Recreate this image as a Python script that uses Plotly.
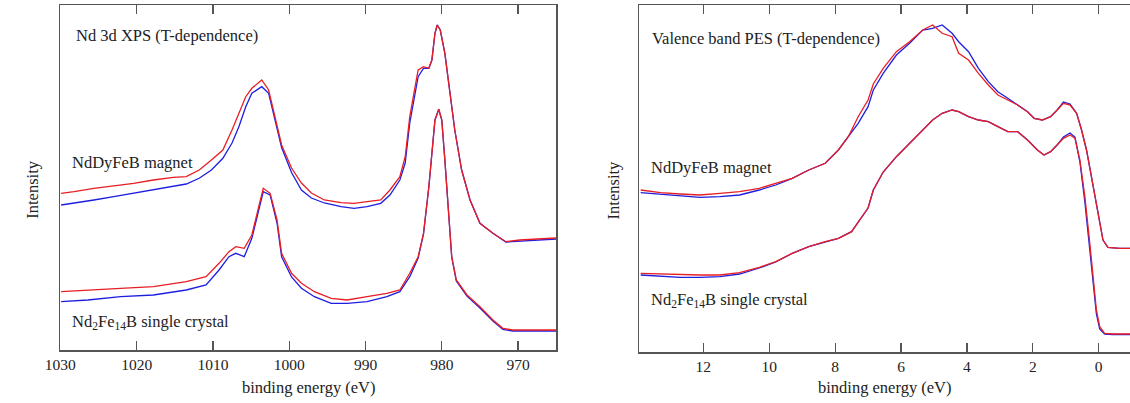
import plotly.graph_objects as go

# ---------------- Nd 3d XPS (left panel) ----------------
E_3d_mag = [1029.9, 1028.2, 1025.6, 1023.0, 1020.4, 1017.8, 1015.2, 1013.5, 1011.8, 1010.2,
            1008.7, 1007.5, 1006.6, 1005.7, 1004.9, 1003.6, 1002.7, 1001.8, 1001.0, 999.7,
            998.4, 997.1, 995.4, 993.2, 991.5, 989.8, 988.0, 986.8, 985.5, 984.8,
            984.2, 983.5, 983.1, 982.4, 981.7, 981.3, 980.9, 980.6, 980.2, 979.6,
            978.9, 978.3, 977.4, 976.3, 975.0, 973.3, 971.6, 969.8, 967.5, 965.0]
I_3d_mag_red = [156.7, 158.3, 161.7, 164, 166.7, 170, 172.7, 173.3, 180, 190,
                200, 220, 237, 253.3, 261.7, 270, 260, 230, 205, 182,
                167, 157, 150, 147.3, 146.7, 148.3, 150, 160, 173.3, 193.3,
                233.3, 263.3, 280, 283.3, 281.7, 290, 316.7, 325, 320, 296.7,
                256.7, 220, 180, 150, 126.7, 116.7, 108.3, 110, 111, 112]
I_3d_mag_blue = [145, 146.7, 150, 153.3, 156.7, 160, 163.3, 166, 171.7, 180,
                 191.7, 207, 223.3, 243.3, 256.7, 263.3, 256.7, 228.3, 202.5, 177.5,
                 160, 152, 147, 143.3, 141.7, 143.3, 146.7, 155, 170, 187,
                 227, 256.7, 273.3, 281.7, 281.7, 290, 316.7, 325, 320, 296.7,
                 256.7, 220, 180, 150, 126.7, 116.7, 108, 109, 110, 111]

E_3d_cry = [1029.9, 1026.4, 1022.1, 1017.8, 1013.5, 1010.9, 1009.2, 1007.9, 1007.0, 1005.9,
            1004.9, 1004.0, 1003.4, 1002.5, 1001.6, 1001.0, 999.7, 998.4, 996.7, 994.5,
            992.4, 989.8, 987.2, 985.5, 984.2, 983.1, 982.4, 981.7, 981.3, 980.9,
            980.4, 980.0, 979.6, 979.1, 978.7, 978.1, 976.7, 975.0, 973.3, 972.0,
            970.7, 969.2, 965.0]
I_3d_cry_red = [58.3, 60, 61.7, 63.3, 68.3, 73.3, 86.7, 98.3, 103.3, 101.7,
                115, 143.3, 161.7, 156.7, 130, 96.7, 76.7, 66.7, 58.3, 51.7,
                50, 53.3, 56.7, 60, 76.7, 93.3, 116.7, 163.3, 200, 230,
                240.7, 230, 190, 133.3, 93.3, 70, 55, 43.3, 30, 21.7,
                20, 20, 20]
I_3d_cry_blue = [48.3, 50, 53.3, 55, 60, 65, 80, 93.3, 96.7, 93.3,
                 111.7, 140, 158.3, 155, 127, 93.3, 73, 61.7, 53.3, 46.7,
                 46.7, 48.3, 53.3, 58.3, 73.3, 92, 116, 163, 200, 230,
                 240.7, 230, 190, 133.3, 93, 69, 54, 42, 29, 20.5,
                 19, 19, 19]

# ---------------- Valence band PES (right panel) ----------------
E_vb_mag = [13.9, 13.3, 12.7, 12.1, 11.5, 10.9, 10.3, 9.8, 9.3, 8.8,
            8.3, 7.9, 7.6, 7.3, 7.0, 6.84, 6.54, 6.14, 5.74, 5.34,
            5.04, 4.75, 4.45, 4.25, 3.95, 3.65, 3.35, 3.06, 2.76, 2.46,
            2.16, 1.96, 1.71, 1.46, 1.26, 1.07, 0.87, 0.67, 0.52, 0.37,
            0.22, 0.07, -0.03, -0.13, -0.28, -0.63, -0.95]
I_vb_mag_red = [160, 157.3, 156, 155, 156.7, 158.3, 161.7, 166.7, 171.7, 180,
                186.7, 200, 213.3, 233.3, 250, 266, 281.7, 298.3, 308.3, 320,
                325, 316.7, 313.3, 296.7, 290, 276.7, 265, 255, 250, 245,
                238.3, 231.7, 230, 233.3, 240, 246.7, 245, 236.7, 220, 200,
                173.3, 146.7, 126.7, 110, 102.7, 101.7, 101.7]
I_vb_mag_blue = [157.3, 155.7, 154, 152.7, 153.3, 155, 160, 165, 171.7, 180,
                 186.7, 200, 213.3, 226.7, 243.3, 260, 276.7, 295, 306.7, 320,
                 321.7, 325, 316.7, 308.3, 298.3, 281.7, 268.3, 258.3, 251.7, 245,
                 238.3, 231.7, 230, 233.3, 240, 248, 246, 236.7, 220, 200,
                 173.3, 146.7, 126.7, 110, 102.7, 101.7, 101.7]

E_vb_cry = [13.9, 13.3, 12.7, 12.1, 11.5, 10.9, 10.3, 9.8, 9.3, 8.8,
            8.3, 7.9, 7.5, 7.2, 7.0, 6.84, 6.54, 6.14, 5.74, 5.34,
            5.04, 4.75, 4.45, 4.25, 3.95, 3.65, 3.35, 3.06, 2.76, 2.46,
            2.16, 1.86, 1.66, 1.46, 1.26, 1.07, 0.87, 0.72, 0.57, 0.42,
            0.27, 0.17, 0.07, -0.03, -0.18, -0.43, -0.95]
I_vb_cry_red = [76.7, 76, 75, 75, 75, 77.3, 82.7, 88.3, 96.7, 103.3,
                108.3, 111.7, 118.3, 132, 142, 160, 178, 193.3, 206.7, 220,
                230, 236.7, 240, 238.3, 233.3, 230, 228.3, 223.3, 218.3, 218.3,
                210, 200, 195, 198.3, 205, 211.7, 215, 211.7, 190, 153.3,
                106.7, 73.3, 40, 23.3, 16.7, 16, 16]
I_vb_cry_blue = [75, 74, 72.7, 72.7, 73.3, 76, 82, 88, 96.7, 103.3,
                 108.3, 111.7, 118.3, 132, 142, 160, 178, 193.3, 206.7, 220,
                 230, 236.7, 240, 238.3, 233.3, 230, 228.3, 223.3, 218.3, 218.3,
                 210, 200, 195, 198.3, 205, 213, 217, 213, 188, 148,
                 100, 68, 36, 21, 16, 15.5, 15.5]

x_ticks_3d = [1030, 1020, 1010, 1000, 990, 980, 970]
x_ticks_vb = [12, 10, 8, 6, 4, 2, 0]

RED = "rgb(232,30,36)"
BLUE = "rgb(30,30,225)"
FONT = "Liberation Serif"
TXT = 16.5
W, H = 1130, 403


def px(x):
    return x / W


def py(y):
    return 1 - y / H


fig = go.Figure()


def add(x, y, color, xa, ya):
    fig.add_trace(go.Scatter(x=x, y=y, mode="lines", xaxis=xa, yaxis=ya,
                             line=dict(color=color, width=1.3), showlegend=False,
                             hoverinfo="skip"))


add(E_3d_mag, I_3d_mag_blue, BLUE, "x", "y")
add(E_3d_mag, I_3d_mag_red, RED, "x", "y")
add(E_3d_cry, I_3d_cry_blue, BLUE, "x", "y")
add(E_3d_cry, I_3d_cry_red, RED, "x", "y")
add(E_vb_mag, I_vb_mag_blue, BLUE, "x2", "y2")
add(E_vb_mag, I_vb_mag_red, RED, "x2", "y2")
add(E_vb_cry, I_vb_cry_blue, BLUE, "x2", "y2")
add(E_vb_cry, I_vb_cry_red, RED, "x2", "y2")

axis_common = dict(showgrid=False, zeroline=False, showline=True, linecolor="#555",
                   linewidth=1.5, ticks="inside", ticklen=9, tickcolor="#555",
                   tickwidth=1.2, tickfont=dict(family=FONT, size=15.5, color="#222"))

fig.update_layout(
    width=W, height=H, margin=dict(l=0, r=0, t=0, b=0),
    paper_bgcolor="white", plot_bgcolor="white",
    xaxis=dict(domain=[px(45), px(548)], range=[1030, 965], tickvals=x_ticks_3d,
               anchor="y", mirror="ticks", **axis_common),
    yaxis=dict(domain=[py(350), py(5)], range=[0, 345], showgrid=False, zeroline=False,
               showline=True, linecolor="#555", linewidth=1.5, mirror=True,
               showticklabels=False, ticks="", anchor="x"),
    xaxis2=dict(domain=[px(632), 1.0], range=[13.95, -0.95], tickvals=x_ticks_vb,
                anchor="y2", mirror="ticks", **axis_common),
    yaxis2=dict(domain=[py(352), py(5)], range=[-2, 345], showgrid=False, zeroline=False,
                showline=True, linecolor="#555", linewidth=1.5, mirror=False,
                showticklabels=False, ticks="", anchor="x2"),
)


def note(text, x, y, size=TXT, xanchor="left", angle=0):
    fig.add_annotation(text=text, x=px(x), y=py(y), xref="paper", yref="paper",
                       showarrow=False, xanchor=xanchor, yanchor="middle", textangle=angle,
                       font=dict(family=FONT, size=size, color="#222"))


note("Nd 3d XPS (T-dependence)", 59, 36)
note("NdDyFeB magnet", 55, 162)
note("Nd<sub>2</sub>Fe<sub>14</sub>B single crystal", 55, 322)
note("Valence band PES (T-dependence)", 643, 38)
note("NdDyFeB magnet", 642, 168)
note("Nd<sub>2</sub>Fe<sub>14</sub>B single crystal", 642, 300)
note("binding energy (eV)", 297, 387, xanchor="center")
note("binding energy (eV)", 881, 387, xanchor="center")
note("Intensity", 16, 190, xanchor="center", angle=-90)
note("Intensity", 606, 190, xanchor="center", angle=-90)

fig.write_html("out.html",
               config={"displayModeBar": False, "staticPlot": True},
               post_script="document.body.style.margin='0';document.body.style.overflow='hidden';")
